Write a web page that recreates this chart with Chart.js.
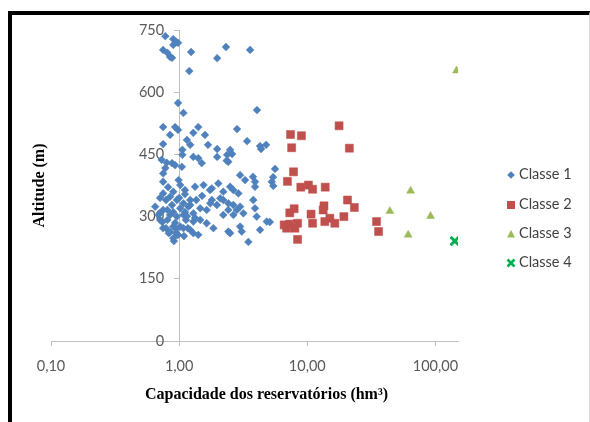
<!DOCTYPE html>
<html><head><meta charset="utf-8">
<script src="https://cdn.jsdelivr.net/npm/chart.js@4"></script>
<style>
html,body{margin:0;padding:0;background:#fff;}
#wrap{position:relative;width:590px;height:422px;overflow:hidden;background:#fff;}
#frame{position:absolute;left:8px;top:11px;width:582px;height:420px;border-left:4px solid #000;border-top:4px solid #000;border-right:1px solid #d9d9d9;box-sizing:border-box;}
#c{position:absolute;left:0;top:0;}
.item{position:absolute;left:0;height:20px;width:90px;}
.item svg{position:absolute;left:505px;top:4px;}
.item span{position:absolute;left:519px;top:0;line-height:20px;font:14.5px Lato, sans-serif;color:#404040;white-space:nowrap;}
</style></head>
<body>
<div id="wrap">
<div id="frame"></div>
<canvas id="c" width="590" height="422"></canvas>
<div id="legend"></div>
</div>
<script>
// ---- data ----
const seriesNames = ['Classe 1', 'Classe 2', 'Classe 3', 'Classe 4'];
const class1X = [0.78,0.90,0.95,0.98,0.90,0.75,0.81,0.85,0.88,1.24,2.32,1.98,3.58,1.20,0.98,1.08,4.05,0.75,0.85,0.93,
  0.98,1.29,1.41,1.59,2.83,1.15,1.22,1.68,1.98,3.39,4.77,4.36,2.50,2.37,2.59,0.75,1.06,1.06,1.29,1.41,
  1.98,0.73,0.80,0.88,0.93,1.05,1.50,2.42,2.99,3.27,3.91,3.91,5.60,5.28,5.43,0.75,0.75,0.99,1.02,1.11,
  1.33,1.55,1.80,2.02,2.21,2.50,2.65,2.90,2.09,1.80,1.75,1.97,2.21,2.42,2.65,2.42,2.21,2.65,2.82,2.99,
  3.17,3.79,3.91,4.03,4.83,4.28,3.47,2.99,3.08,2.42,1.85,1.64,1.46,1.29,1.08,0.90,0.83,0.75,0.71,0.65,
  0.75,0.85,0.96,1.08,1.18,1.22,0.96,0.85,0.75,0.90,1.08,1.02,1.29,1.46,1.64,0.90,1.02,1.29,2.50,5.10,
  4.28,3.77,5.41,2.35,0.79,0.88,0.81,0.93,1.13,1.17,0.98,0.95,0.71,1.11,1.36,1.51,1.74,0.82,0.78,1.22,1.41,
  0.69,0.74,0.79,0.85,0.95,1.09,0.91,0.81,0.90,1.15,1.33,1.22,1.00,1.11,0.71];
const class1Y = [735,728,721,719,714,702,695,685,683,697,709,682,702,651,574,550,557,516,497,516,
  509,502,516,497,511,485,473,473,463,482,473,463,461,449,451,475,449,461,444,441,
  444,437,430,429,424,420,429,432,400,388,384,372,415,384,374,404,384,388,376,364,
  372,376,368,380,360,372,364,356,344,340,332,328,340,332,328,316,304,304,316,324,
  308,340,320,300,288,268,239,276,264,264,272,284,292,260,272,248,260,272,292,324,
  316,304,300,304,324,340,340,348,356,360,332,320,308,320,316,276,276,288,260,287,
  470,396,395,435,340,328,292,285,292,272,256,260,309,311,340,350,364,371,417,268,256,
  304,287,272,263,270,253,241,316,311,301,297,328,345,354,345];
const class2X = [17.7,7.4,9.0,7.55,21.3,7.8,7.0,8.9,10.2,11.0,13.8,7.9,7.3,10.7,13.5,13.3,20.6,23.3,19.3,15.0,
  16.4,13.7,11.0,6.6,7.3,8.4,6.9,8.0,8.4,34.7,36.0];
const class2Y = [519,498,495,466,465,408,385,371,376,366,371,319,309,306,326,316,340,322,300,296,
  284,288,284,280,282,284,272,272,245,288,264];
const class3X = [64,44.1,91.6,61.3,146];
const class3Y = [362,313,301,256,652];
const class4X = [141.6];
const class4Y = [241];
const xTickValues = [0.1, 1, 10, 100];
const xTickLabels = ['0,10', '1,00', '10,00', '100,00'];
const yTickValues = [0, 150, 300, 450, 600, 750];
const yTickLabels = ['0', '150', '300', '450', '600', '750'];
const xTitle = 'Capacidade dos reservatórios (hm³)';
const yTitle = 'Altitude (m)';

// ---- styles ----
const colors = ['#4F81BD', '#C0504D', '#9BBB59', '#00B050'];
const styles = ['rectRot', 'rect', 'triangle', 'crossRot'];
const radii = [3.9, 5.7, 4.6, 6];
const bws = [0.5, 0.5, 0.5, 3];
const xs = [class1X, class2X, class3X, class4X];
const ys = [class1Y, class2Y, class3Y, class4Y];

const datasets = seriesNames.map((name, k) => ({
  label: name,
  data: xs[k].map((x, i) => ({x: x, y: ys[k][i]})),
  xAxisID: 'x', yAxisID: 'y',
  pointStyle: styles[k],
  pointRadius: radii[k],
  pointHoverRadius: radii[k],
  backgroundColor: colors[k],
  borderColor: colors[k],
  borderWidth: bws[k]
}));

// shift the x title to where the original sits, and move y tick labels
// away from the crossing axis by tick length + padding
const Y_LABEL_GAP = 15;
const layoutTweaks = {
  id: 'layoutTweaks',
  afterLayout(chart) { const s = chart.scales.xt; s.left += 24; },
  beforeDraw(chart) {
    const s = chart.scales.y;
    const items = s.getLabelItems(chart.chartArea);
    items.forEach(it => {
      if (!it._shifted) { it.options.translation[0] -= Y_LABEL_GAP; it._shifted = true; }
    });
  }
};

const tickFont = {family: 'Lato', size: 14.5};
const titleFont = {family: '"Liberation Serif", serif', size: 16, weight: 'bold'};

new Chart(document.getElementById('c'), {
  type: 'scatter',
  data: {datasets: datasets},
  options: {
    responsive: false,
    animation: false,
    layout: {padding: {top: 30, right: 132, bottom: 0, left: 0}},
    plugins: {legend: {display: false}, tooltip: {enabled: false}},
    scales: {
      x: {
        type: 'logarithmic', axis: 'x', min: 0.1, max: 150, position: 'bottom', weight: 0,
        afterBuildTicks: s => { s.ticks = xTickValues.map(v => ({value: v})); },
        afterFit: s => { s.height = 36; },
        grid: {drawOnChartArea: false, drawTicks: true, tickLength: 5, color: '#bfbfbf'},
        border: {color: '#bfbfbf'},
        ticks: {autoSkip: false, maxRotation: 0, padding: 12, color: '#595959', font: tickFont,
          callback: (v, i) => xTickLabels[i]}
      },
      y: {
        type: 'linear', axis: 'y', min: 0, max: 750, position: {x: 1},
        afterBuildTicks: s => { s.ticks = yTickValues.map(v => ({value: v})); },
        grid: {drawOnChartArea: false, drawTicks: true, tickLength: 5, color: '#bfbfbf'},
        border: {color: '#bfbfbf'},
        ticks: {padding: 10, color: '#595959', font: tickFont, callback: (v, i) => yTickLabels[i]}
      },
      xt: {
        type: 'linear', axis: 'x', position: 'bottom', weight: 1,
        afterFit: s => { s.height = 45; },
        grid: {display: false}, border: {display: false}, ticks: {display: false},
        title: {display: true, text: xTitle, color: '#000', font: titleFont, padding: {top: 0, bottom: 18}}
      },
      yt: {
        type: 'linear', axis: 'y', position: 'left',
        afterFit: s => { s.width = 51; },
        grid: {display: false}, border: {display: false}, ticks: {display: false},
        title: {display: true, text: yTitle, color: '#000', font: titleFont, padding: {top: 30, bottom: 0}}
      }
    }
  },
  plugins: [layoutTweaks]
});

// ---- legend (HTML) ----
const legendY = [175, 205, 234, 263];
const markerSvg = [
  '<polygon points="6,2.2 9.8,6 6,9.8 2.2,6" fill="#4F81BD"/>',
  '<rect x="2" y="2" width="8" height="8" fill="#C0504D"/>',
  '<polygon points="6,2 10,9.5 2,9.5" fill="#9BBB59"/>',
  '<path d="M2.5,2.5 L9.5,9.5 M9.5,2.5 L2.5,9.5" stroke="#00B050" stroke-width="2.6"/>'
];
const leg = document.getElementById('legend');
seriesNames.forEach((n, k) => {
  const d = document.createElement('div');
  d.className = 'item';
  d.style.top = (legendY[k] - 10) + 'px';
  d.innerHTML = '<svg width="12" height="12" viewBox="0 0 12 12">' + markerSvg[k] + '</svg><span>' + n + '</span>';
  leg.appendChild(d);
});
</script>
</body></html>
